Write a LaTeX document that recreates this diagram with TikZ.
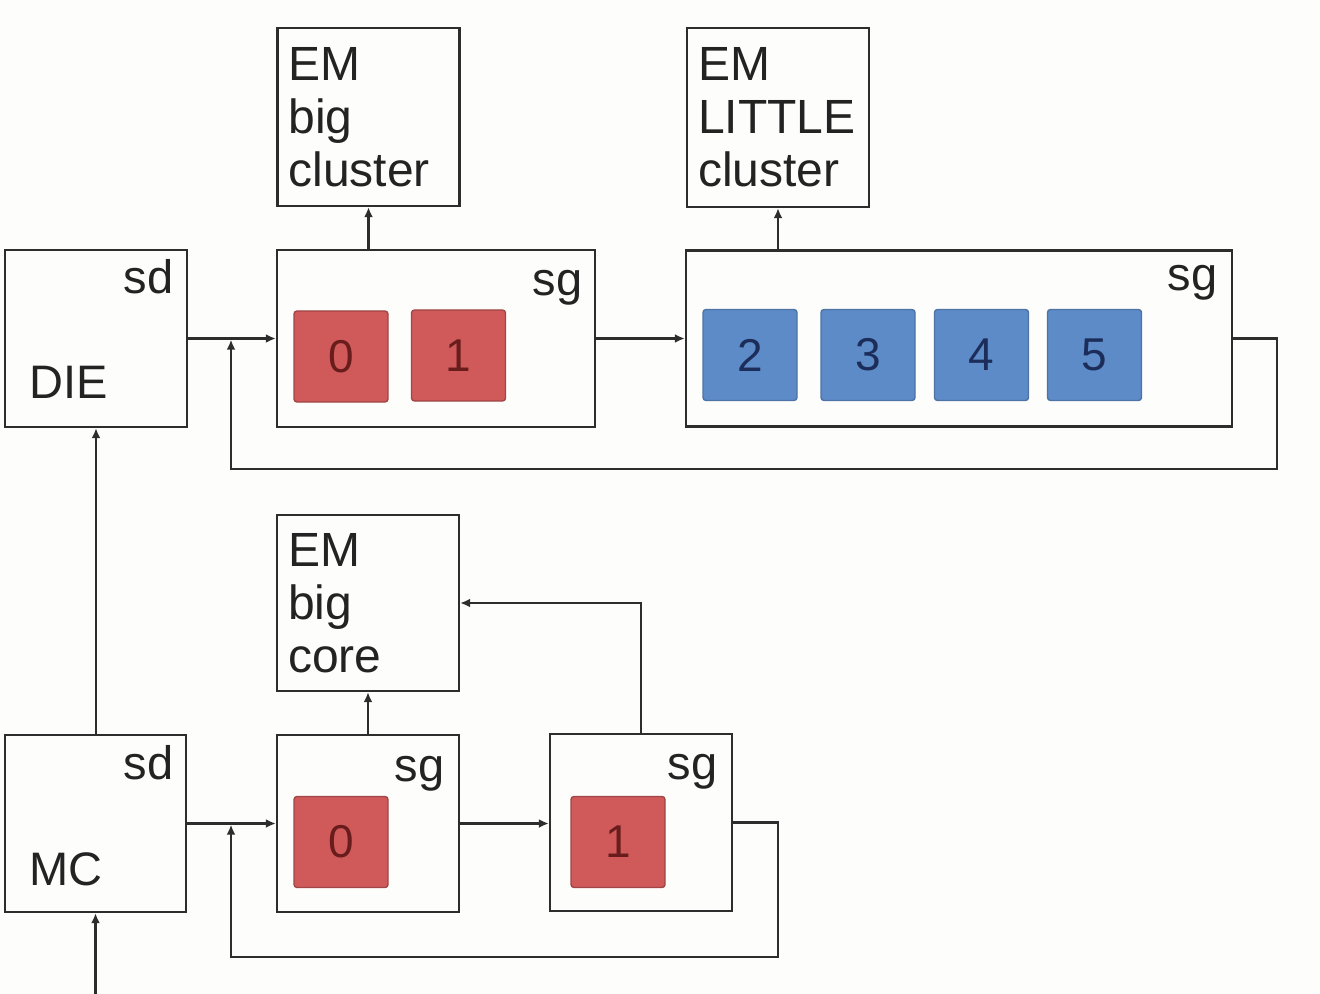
\documentclass[tikz,border=0pt]{standalone}
\usepackage{fontspec}
\setmainfont{Liberation Sans}
\usetikzlibrary{arrows.meta}
\definecolor{bg}{RGB}{253,253,251}
\definecolor{ln}{RGB}{45,45,45}
\definecolor{txt}{RGB}{35,35,35}
\definecolor{redf}{RGB}{208,90,90}
\definecolor{redd}{RGB}{160,70,70}
\definecolor{redt}{RGB}{105,28,28}
\definecolor{bluef}{RGB}{92,139,200}
\definecolor{blued}{RGB}{78,115,165}
\definecolor{bluet}{RGB}{28,45,90}
\begin{document}
\begin{tikzpicture}[x=0.5pt,y=-0.5pt,
 box/.style={draw=ln,line width=1.2pt,inner sep=0pt},
 embox/.style={draw=ln,line width=1.2pt,inner xsep=5.5pt,inner ysep=0pt,text width=80pt,align=left,font=\fontsize{24}{26.5}\selectfont,text=txt},
 lbl/.style={inner sep=0pt,font=\fontsize{23.5}{28}\selectfont,text=txt},
 core/.style={draw=#1d,line width=0.7pt,fill=#1f,rounded corners=1.5pt,minimum width=47pt,minimum height=45.5pt,inner sep=0pt,font=\fontsize{23}{28}\selectfont,text=#1t},
 arr/.style={draw=ln,line width=1.2pt,-{Latex[length=5pt,width=4.5pt]}},
 wire/.style={draw=ln,line width=1.2pt}]
\useasboundingbox[fill=bg] (0,0) rectangle (1320,994);

% top row
\node[box,minimum width=91pt,minimum height=88.5pt] (DIE) at (96,338.5) {};
\node[lbl,anchor=base east] (DIEsd) at (174,293) {sd};
\node[lbl,anchor=base west] (DIEname) at (29,398) {DIE};

\node[box,minimum width=159pt,minimum height=88.5pt] (sg1) at (436,338.5) {};
\node[lbl,anchor=base east] (sg1l) at (583,296) {sg};
\node[core=red] (c0a) at (341,356.5) {0};
\node[core=red] (c1a) at (458.5,355.5) {1};

\node[embox,minimum height=89pt] (EMc) at (368.5,117) {EM\\big\\cluster};
\node[embox,minimum height=89.5pt] (EML) at (778,117.5) {EM\\LITTLE\\cluster};

\node[box,minimum width=273pt,minimum height=88pt] (sg2) at (959,338.5) {};
\node[lbl,anchor=base east] (sg2l) at (1218,291) {sg};
\node[core=blue] (c2) at (750,355) {2};
\node[core=blue] (c3) at (868,355) {3};
\node[core=blue] (c4) at (981.5,355) {4};
\node[core=blue] (c5) at (1094.5,355) {5};

% bottom row
\node[box,minimum width=90.5pt,minimum height=88.5pt] (MC) at (95.5,823.5) {};
\node[lbl,anchor=base east] (MCsd) at (174,779) {sd};
\node[lbl,anchor=base west] (MCname) at (29,885) {MC};

\node[embox,minimum height=88pt] (EMk) at (368,603) {EM\\big\\core};

\node[box,minimum width=91pt,minimum height=88.5pt] (sg3) at (368,823.5) {};
\node[lbl,anchor=base east] (sg3l) at (445,781) {sg};
\node[core=red] (c0b) at (341,842) {0};

\node[box,minimum width=91pt,minimum height=88.5pt] (sg4) at (641,822.5) {};
\node[lbl,anchor=base east] (sg4l) at (718,779) {sg};
\node[core=red] (c1b) at (618,842) {1};

% junctions and corners
\coordinate (j1) at (231,338.5);
\coordinate (r1) at (1277,469);
\coordinate (j2) at (231,823.5);
\coordinate (r2) at (778,957);
\coordinate (in) at (96,994);

% connectors
\draw[arr] (DIE.east) -- (sg1.west);
\draw[arr] (sg1.east) -- (sg2.west);
\draw[arr] (EMc.south |- sg1.north) -- (EMc.south);
\draw[arr] (EML.south |- sg2.north) -- (EML.south);
\draw[arr,shorten >=0.6pt] (sg2.east) -| (r1) -| (j1);
\draw[arr] (MC.north -| DIE.south) -- (DIE.south);
\draw[arr] (in -| MC.south) -- (MC.south);
\draw[arr] (MC.east) -- (sg3.west);
\draw[arr] (sg3.north) -- (EMk.south);
\draw[arr] (sg3.east) -- (sg3.east -| sg4.west);
\draw[arr] (sg4.north) |- (EMk.east);
\draw[arr,shorten >=0.6pt] (sg4.east) -| (r2) -| (j2);
\end{tikzpicture}
\end{document}
